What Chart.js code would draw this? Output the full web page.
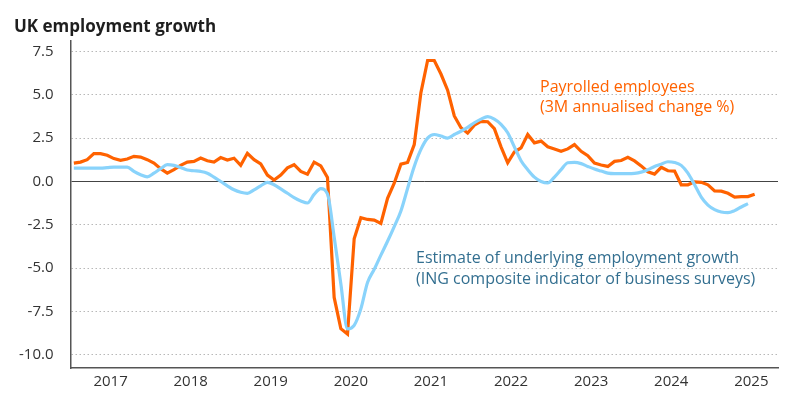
<!DOCTYPE html>
<html>
<head>
<meta charset="utf-8">
<script src="https://cdn.jsdelivr.net/npm/chart.js@4.4.1/dist/chart.umd.min.js"></script>
<style>
  html, body { margin: 0; padding: 0; background: #fff; }
  .chart-container { width: 800px; height: 412px; }
</style>
</head>
<body>
<div class="chart-container"><canvas id="employment-chart"></canvas></div>
<script>
// monthly data, first point is Jan 2017
const startYear = 2017;
const yearLabels = ["2017", "2018", "2019", "2020", "2021", "2022", "2023", "2024", "2025"];
const yTicks = [-10, -7.5, -5, -2.5, 0, 2.5, 5, 7.5];

// Payrolled employees, 3M annualised change %
const payrolls = [
  1.06, 1.12, 1.26, 1.61, 1.61, 1.51, 1.32, 1.22, 1.30, 1.45, 1.41, 1.26,
  1.06, 0.74, 0.48, 0.68, 0.93, 1.12, 1.16, 1.35, 1.20, 1.12, 1.38, 1.24,
  1.34, 0.93, 1.63, 1.26, 1.02, 0.37, 0.08, 0.37, 0.79, 0.97, 0.58, 0.42,
  1.12, 0.90, 0.23, -6.69, -8.49, -8.80, -3.30, -2.09, -2.19, -2.23, -2.42, -0.97,
  -0.10, 1.00, 1.10, 2.13, 5.13, 6.98, 6.98, 6.20, 5.27, 3.78, 3.10, 2.79,
  3.25, 3.47, 3.45, 3.05, 2.00, 1.08, 1.70, 1.94, 2.71, 2.23, 2.33, 2.00,
  1.88, 1.74, 1.88, 2.13, 1.74, 1.49, 1.06, 0.95, 0.87, 1.16, 1.21, 1.40,
  1.19, 0.90, 0.56, 0.43, 0.82, 0.62, 0.60, -0.19, -0.19, -0.02, -0.05, -0.19,
  -0.54, -0.56, -0.68, -0.90, -0.87, -0.87, -0.74
];

// ING composite indicator of business surveys
const ingIndicator = [
  0.77, 0.77, 0.77, 0.77, 0.77, 0.80, 0.83, 0.83, 0.83, 0.58, 0.39, 0.27,
  0.48, 0.74, 0.97, 0.93, 0.81, 0.66, 0.62, 0.58, 0.48, 0.25, 0.00, -0.25,
  -0.48, -0.62, -0.68, -0.48, -0.25, -0.05, -0.19, -0.43, -0.68, -0.93, -1.12, -1.24,
  -0.74, -0.41, -0.72, -3.20, -5.90, -8.50, -8.30, -7.35, -5.83, -5.07, -4.25, -3.45,
  -2.60, -1.70, -0.40, 0.87, 1.85, 2.50, 2.71, 2.62, 2.50, 2.71, 2.90, 3.12,
  3.39, 3.60, 3.74, 3.60, 3.30, 2.81, 2.00, 1.20, 0.68, 0.25, 0.00, -0.08,
  0.25, 0.68, 1.08, 1.10, 1.03, 0.87, 0.72, 0.60, 0.48, 0.45, 0.45, 0.45,
  0.47, 0.54, 0.68, 0.87, 1.00, 1.14, 1.10, 0.93, 0.48, -0.19, -0.90, -1.36,
  -1.62, -1.76, -1.80, -1.68, -1.47, -1.28
];

const payrollNote = ["Payrolled employees", "(3M annualised change %)"];
const ingNote = ["Estimate of underlying employment growth", "(ING composite indicator of business surveys)"];

const orange = "#ff6200";
const skyBlue = "#89d3fb";
const noteBlue = "#336f90";
const fontFamily = "'Open Sans', 'Noto Sans', sans-serif";

const toPoints = (values) => values.map((v, i) => ({ x: startYear + (i + 0.5) / 12, y: v }));

// the two text labels next to the lines
const lineNotes = {
  id: "lineNotes",
  afterDatasetsDraw(chart) {
    const ctx = chart.ctx;
    ctx.save();
    ctx.font = "16px " + fontFamily;
    ctx.textAlign = "left";
    ctx.textBaseline = "alphabetic";
    ctx.fillStyle = orange;
    payrollNote.forEach((line, i) => ctx.fillText(line, 540, 92 + i * 20));
    ctx.fillStyle = noteBlue;
    ingNote.forEach((line, i) => ctx.fillText(line, 416, 263 + i * 21));
    ctx.restore();
  },
};

let ctx = document.getElementById("employment-chart").getContext("2d");
let employmentChart = new Chart(ctx, {
  type: "line",
  data: {
    datasets: [
      {
        label: "ING composite indicator",
        data: toPoints(ingIndicator),
        borderColor: skyBlue,
        borderWidth: 3.2,
        pointRadius: 0,
        cubicInterpolationMode: "monotone",
      },
      {
        label: "Payrolled employees",
        data: toPoints(payrolls),
        borderColor: orange,
        borderWidth: 3.2,
        pointRadius: 0,
        tension: 0,
      },
    ],
  },
  options: {
    responsive: true,
    maintainAspectRatio: false,
    animation: false,
    layout: { padding: { left: 14, right: 22, top: 8, bottom: 16 } },
    plugins: {
      legend: { display: false },
      tooltip: { enabled: false },
      title: {
        display: true,
        text: "UK employment growth",
        align: "start",
        color: "#1e1e1e",
        font: { family: fontFamily, size: 17, weight: "bold" },
        padding: { top: 9, bottom: 3 },
      },
    },
    scales: {
      x: {
        type: "linear",
        min: startYear,
        max: 2025.833,
        afterBuildTicks: (scale) => {
          scale.ticks = yearLabels.map((y, i) => ({ value: startYear + i + 0.5 }));
        },
        ticks: {
          callback: (value, index) => yearLabels[index],
          color: "#333",
          font: { family: fontFamily, size: 15 },
          padding: 5,
          maxRotation: 0,
          autoSkip: false,
        },
        grid: { display: false, drawTicks: false },
        border: { display: true, color: "#555", width: 1.5 },
      },
      y: {
        min: -10.76,
        max: 8.14,
        afterBuildTicks: (scale) => {
          scale.ticks = yTicks.map((v) => ({ value: v }));
        },
        afterFit: (scale) => {
          scale.width = 56.5;
        },
        ticks: {
          callback: (value) => value.toFixed(1),
          color: "#333",
          font: { family: fontFamily, size: 15 },
          padding: 17,
        },
        grid: {
          drawTicks: false,
          lineWidth: 1,
          color: (c) => (c.tick && c.tick.value === 0 ? "#444" : "#b8b8b8"),
        },
        border: {
          display: true,
          color: "#555",
          width: 1.5,
          dash: (c) => (c.tick && c.tick.value !== 0 ? [1.5, 2.5] : []),
        },
      },
    },
  },
  plugins: [lineNotes],
});
</script>
</body>
</html>
